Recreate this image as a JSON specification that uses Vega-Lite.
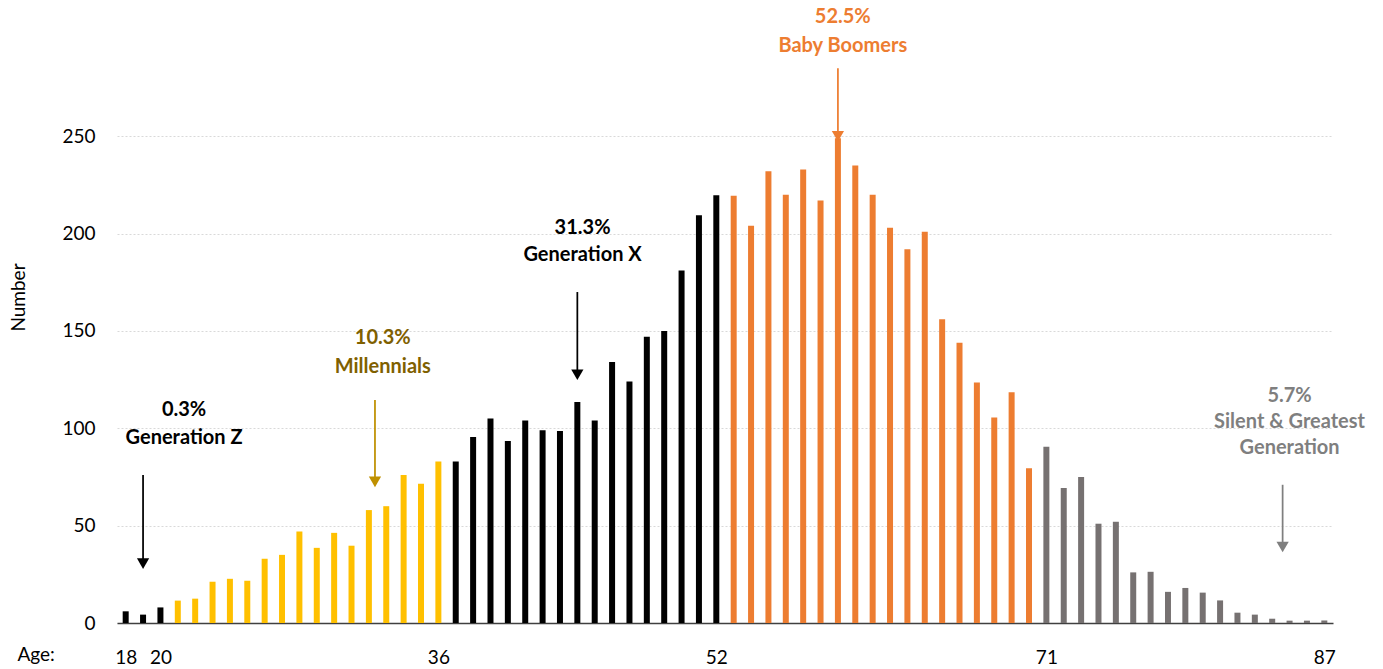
{
  "$schema": "https://vega.github.io/schema/vega-lite/v6.json",
  "width": 1216,
  "height": 623,
  "autosize": {"type": "none"},
  "padding": {"left": 117, "top": 0, "right": 50, "bottom": 46},
  "background": "white",
  "config": {
    "view": {"stroke": null},
    "font": "Lato",
    "axis": {"labelFont": "Lato", "titleFont": "Lato"}
  },
  "datasets": {
    "bars": [
      {"age": 18, "value": 6, "gen": "Generation Z"},
      {"age": 19, "value": 4.3, "gen": "Generation Z"},
      {"age": 20, "value": 8, "gen": "Generation Z"},
      {"age": 21, "value": 11.5, "gen": "Millennials"},
      {"age": 22, "value": 12.5, "gen": "Millennials"},
      {"age": 23, "value": 21.2, "gen": "Millennials"},
      {"age": 24, "value": 22.7, "gen": "Millennials"},
      {"age": 25, "value": 21.7, "gen": "Millennials"},
      {"age": 26, "value": 33, "gen": "Millennials"},
      {"age": 27, "value": 35, "gen": "Millennials"},
      {"age": 28, "value": 47, "gen": "Millennials"},
      {"age": 29, "value": 38.6, "gen": "Millennials"},
      {"age": 30, "value": 46.3, "gen": "Millennials"},
      {"age": 31, "value": 39.7, "gen": "Millennials"},
      {"age": 32, "value": 58, "gen": "Millennials"},
      {"age": 33, "value": 60, "gen": "Millennials"},
      {"age": 34, "value": 76, "gen": "Millennials"},
      {"age": 35, "value": 71.5, "gen": "Millennials"},
      {"age": 36, "value": 83, "gen": "Millennials"},
      {"age": 37, "value": 83, "gen": "Generation X"},
      {"age": 38, "value": 95.6, "gen": "Generation X"},
      {"age": 39, "value": 105, "gen": "Generation X"},
      {"age": 40, "value": 93.5, "gen": "Generation X"},
      {"age": 41, "value": 104, "gen": "Generation X"},
      {"age": 42, "value": 99, "gen": "Generation X"},
      {"age": 43, "value": 98.6, "gen": "Generation X"},
      {"age": 44, "value": 113.5, "gen": "Generation X"},
      {"age": 45, "value": 104, "gen": "Generation X"},
      {"age": 46, "value": 134, "gen": "Generation X"},
      {"age": 47, "value": 124, "gen": "Generation X"},
      {"age": 48, "value": 147, "gen": "Generation X"},
      {"age": 49, "value": 150, "gen": "Generation X"},
      {"age": 50, "value": 181, "gen": "Generation X"},
      {"age": 51, "value": 209.5, "gen": "Generation X"},
      {"age": 52, "value": 219.7, "gen": "Generation X"},
      {"age": 53, "value": 219.5, "gen": "Baby Boomers"},
      {"age": 54, "value": 204, "gen": "Baby Boomers"},
      {"age": 55, "value": 232, "gen": "Baby Boomers"},
      {"age": 56, "value": 220, "gen": "Baby Boomers"},
      {"age": 57, "value": 233, "gen": "Baby Boomers"},
      {"age": 58, "value": 217, "gen": "Baby Boomers"},
      {"age": 59, "value": 249, "gen": "Baby Boomers"},
      {"age": 60, "value": 235, "gen": "Baby Boomers"},
      {"age": 61, "value": 220, "gen": "Baby Boomers"},
      {"age": 62, "value": 203, "gen": "Baby Boomers"},
      {"age": 63, "value": 192, "gen": "Baby Boomers"},
      {"age": 64, "value": 201, "gen": "Baby Boomers"},
      {"age": 65, "value": 156, "gen": "Baby Boomers"},
      {"age": 66, "value": 144, "gen": "Baby Boomers"},
      {"age": 67, "value": 123.5, "gen": "Baby Boomers"},
      {"age": 68, "value": 105.5, "gen": "Baby Boomers"},
      {"age": 69, "value": 118.5, "gen": "Baby Boomers"},
      {"age": 70, "value": 79.5, "gen": "Baby Boomers"},
      {"age": 71, "value": 90.5, "gen": "Silent"},
      {"age": 72, "value": 69.4, "gen": "Silent"},
      {"age": 73, "value": 75, "gen": "Silent"},
      {"age": 74, "value": 51, "gen": "Silent"},
      {"age": 75, "value": 52, "gen": "Silent"},
      {"age": 76, "value": 26, "gen": "Silent"},
      {"age": 77, "value": 26.3, "gen": "Silent"},
      {"age": 78, "value": 16, "gen": "Silent"},
      {"age": 79, "value": 18, "gen": "Silent"},
      {"age": 80, "value": 15.6, "gen": "Silent"},
      {"age": 81, "value": 11.6, "gen": "Silent"},
      {"age": 82, "value": 5.3, "gen": "Silent"},
      {"age": 83, "value": 4.3, "gen": "Silent"},
      {"age": 84, "value": 2.2, "gen": "Silent"},
      {"age": 85, "value": 1.2, "gen": "Silent"},
      {"age": 86, "value": 1.2, "gen": "Silent"},
      {"age": 87, "value": 1.3, "gen": "Silent"}
    ],
    "labels": [
      {"age": 21.36, "value": 109.4, "text": "0.3%", "gen": "Generation Z"},
      {"age": 21.36, "value": 95.0, "text": "Generation Z", "gen": "Generation Z"},
      {"age": 32.8, "value": 146.4, "text": "10.3%", "gen": "Millennials"},
      {"age": 32.8, "value": 131.5, "text": "Millennials", "gen": "Millennials"},
      {"age": 44.3, "value": 202.9, "text": "31.3%", "gen": "Generation X"},
      {"age": 44.3, "value": 189.0, "text": "Generation  X", "gen": "Generation X"},
      {"age": 59.28, "value": 311.2, "text": "52.5%", "gen": "Baby Boomers"},
      {"age": 59.28, "value": 296.4, "text": "Baby Boomers", "gen": "Baby Boomers"},
      {"age": 85.0, "value": 116.6, "text": "5.7%", "gen": "Silent"},
      {"age": 85.0, "value": 103.2, "text": "Silent & Greatest", "gen": "Silent"},
      {"age": 85.0, "value": 89.9, "text": "Generation", "gen": "Silent"}
    ],
    "arrows": [
      {"age": 19, "value": 76, "value2": 30.5, "gen": "Generation Z"},
      {"age": 32.35, "value": 114.5, "value2": 72.5, "gen": "Millennials"},
      {"age": 44, "value": 170, "value2": 127.5, "gen": "Generation X"},
      {"age": 59, "value": 285, "value2": 250, "gen": "Baby Boomers"},
      {"age": 84.6, "value": 71, "value2": 39, "gen": "Silent"}
    ]
  },
  "resolve": {"scale": {"color": "independent"}},
  "layer": [
    {
      "data": {"name": "bars"},
      "mark": {"type": "bar", "orient": "vertical", "size": 6},
      "encoding": {
        "x": {
          "field": "age", "type": "quantitative", "title": "Age:",
          "scale": {"domain": [17.5, 87.5], "nice": false, "zero": false, "padding": 0},
          "axis": {
            "values": [18, 20, 36, 52, 71, 87], "format": "d",
            "grid": false, "ticks": false, "tickSize": 0,
            "domain": true, "domainColor": "#404040", "domainWidth": 1.5,
            "labelFontSize": 19, "labelColor": "#000000", "labelPadding": 25,
            "titleFontSize": 19, "titleFontWeight": "normal", "titleColor": "#000000",
            "titleAnchor": "start", "titleAlign": "left", "titleBaseline": "top",
            "titleX": -100, "titleY": 22
          }
        },
        "y": {
          "field": "value", "type": "quantitative", "title": "Number",
          "scale": {"domain": [0, 320], "nice": false},
          "axis": {
            "values": [0, 50, 100, 150, 200, 250],
            "grid": true, "gridColor": "#D9D9D9", "gridDash": [2, 2], "gridWidth": 1,
            "domain": false, "ticks": false, "tickSize": 0,
            "labelFontSize": 19, "labelColor": "#000000", "labelPadding": 22,
            "titleFontSize": 19, "titleFontWeight": "normal", "titleColor": "#000000",
            "titleBaseline": "middle", "titleX": -99, "titleY": 297
          }
        },
        "color": {
          "field": "gen", "type": "nominal", "legend": null,
          "scale": {
            "domain": ["Generation Z", "Millennials", "Generation X", "Baby Boomers", "Silent"],
            "range": ["#000000", "#FFC000", "#000000", "#ED7D31", "#767171"]
          }
        }
      }
    },
    {
      "data": {"name": "arrows"},
      "mark": {"type": "rule", "strokeWidth": 1.75},
      "encoding": {
        "x": {"field": "age", "type": "quantitative", "title": "Age:", "scale": {"domain": [17.5, 87.5], "nice": false, "zero": false, "padding": 0}},
        "y": {"field": "value", "type": "quantitative", "title": "Number", "scale": {"domain": [0, 320], "nice": false}},
        "y2": {"field": "value2"},
        "color": {
          "field": "gen", "type": "nominal", "legend": null,
          "scale": {
            "domain": ["Generation Z", "Millennials", "Generation X", "Baby Boomers", "Silent"],
            "range": ["#000000", "#BF9000", "#000000", "#ED7D31", "#7F7F7F"]
          }
        }
      }
    },
    {
      "data": {"name": "arrows"},
      "mark": {"type": "point", "shape": "triangle-down", "filled": true, "size": 150, "opacity": 1},
      "encoding": {
        "x": {"field": "age", "type": "quantitative", "title": "Age:", "scale": {"domain": [17.5, 87.5], "nice": false, "zero": false, "padding": 0}},
        "y": {"field": "value2", "type": "quantitative", "title": "Number", "scale": {"domain": [0, 320], "nice": false}},
        "color": {
          "field": "gen", "type": "nominal", "legend": null,
          "scale": {
            "domain": ["Generation Z", "Millennials", "Generation X", "Baby Boomers", "Silent"],
            "range": ["#000000", "#BF9000", "#000000", "#ED7D31", "#7F7F7F"]
          }
        }
      }
    },
    {
      "data": {"name": "labels"},
      "mark": {"type": "text", "font": "Lato", "fontSize": 20, "fontWeight": "bold", "align": "center", "baseline": "middle"},
      "encoding": {
        "x": {"field": "age", "type": "quantitative", "title": "Age:", "scale": {"domain": [17.5, 87.5], "nice": false, "zero": false, "padding": 0}},
        "y": {"field": "value", "type": "quantitative", "title": "Number", "scale": {"domain": [0, 320], "nice": false}},
        "text": {"field": "text"},
        "color": {
          "field": "gen", "type": "nominal", "legend": null,
          "scale": {
            "domain": ["Generation Z", "Millennials", "Generation X", "Baby Boomers", "Silent"],
            "range": ["#000000", "#7F6000", "#000000", "#ED7D31", "#7F7F7F"]
          }
        }
      }
    }
  ]
}
